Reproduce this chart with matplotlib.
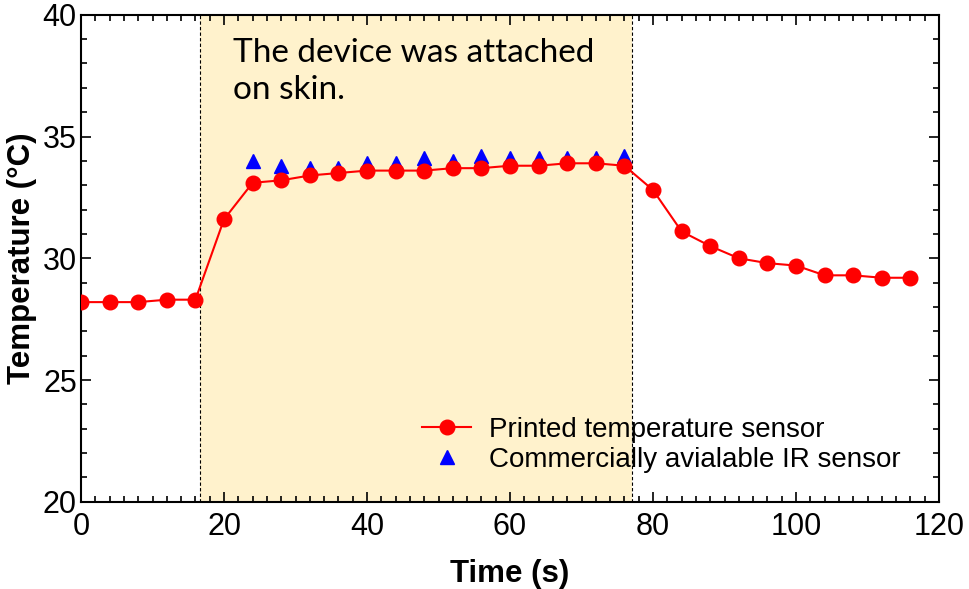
import numpy as np
import matplotlib.pyplot as plt
from matplotlib.ticker import MultipleLocator

# printed sensor readings, every 4 s
time_printed = [0, 4, 8, 12, 16, 20, 24, 28, 32, 36, 40, 44, 48, 52, 56, 60, 64, 68, 72, 76,
                80, 84, 88, 92, 96, 100, 104, 108, 112, 116]
temp_printed = [28.2, 28.2, 28.2, 28.3, 28.3, 31.6, 33.1, 33.2, 33.4, 33.5, 33.6, 33.6, 33.6, 33.7, 33.7,
                33.8, 33.8, 33.9, 33.9, 33.8, 32.8, 31.1, 30.5, 30.0, 29.8, 29.7, 29.3, 29.3, 29.2, 29.2]

# IR reference sensor, only while attached
time_ir = [24, 28, 32, 36, 40, 44, 48, 52, 56, 60, 64, 68, 72, 76]
temp_ir = [34.0, 33.8, 33.7, 33.7, 33.9, 33.9, 34.1, 34.0, 34.2, 34.1, 34.1, 34.1, 34.1, 34.2]

attach_start = 16.7
attach_end = 77.0

plt.rcParams['font.family'] = ['Liberation Sans', 'DejaVu Sans']

fig = plt.figure(figsize=(9.69, 5.89), dpi=100)
ax = fig.add_axes([0.0836, 0.148, 0.8855, 0.827])

ax.axvspan(attach_start, attach_end, color='#fff2cc', zorder=0, lw=0)
ax.axvline(attach_start, color='black', ls='--', lw=0.8, dashes=(3, 2), zorder=1)
ax.axvline(attach_end, color='black', ls='--', lw=0.8, dashes=(3, 2), zorder=1)

ax.plot(time_printed, temp_printed, '-o', color='red', lw=1.5, markersize=10.5,
        label='Printed temperature sensor', zorder=3)
ax.plot(time_ir, temp_ir, '^', color='blue', markersize=10.5, lw=0,
        label='Commercially avialable IR sensor', zorder=2)

ax.set_xlim(0, 120)
ax.set_ylim(20, 40)
ax.xaxis.set_major_locator(MultipleLocator(20))
ax.xaxis.set_minor_locator(MultipleLocator(2))
ax.yaxis.set_major_locator(MultipleLocator(5))
ax.yaxis.set_minor_locator(MultipleLocator(1))
ax.tick_params(which='both', direction='in', top=True, right=True, width=1.2)
ax.tick_params(which='major', length=7, labelsize=22)
ax.tick_params(which='minor', length=4)
ax.tick_params(axis='x', which='major', pad=7.5)
ax.tick_params(axis='y', which='major', pad=3)
for s in ax.spines.values():
    s.set_linewidth(1.5)

ax.set_xlabel('Time (s)', fontsize=22.5, fontweight='bold', labelpad=12)
ax.set_ylabel('Temperature (°C)', fontsize=22.5, fontweight='bold', labelpad=4)

ax.text(21.3, 39.05, 'The device was attached\non skin.', fontsize=24,
        family=['Lato', 'DejaVu Sans'], va='top', ha='left', linespacing=1.3)

leg = ax.legend(loc='upper left', bbox_to_anchor=(0.385, 0.197), frameon=False,
                fontsize=20, handlelength=1.75, handletextpad=0.65, labelspacing=0.15,
                borderaxespad=0)

fig.savefig('out.png', dpi=100)
